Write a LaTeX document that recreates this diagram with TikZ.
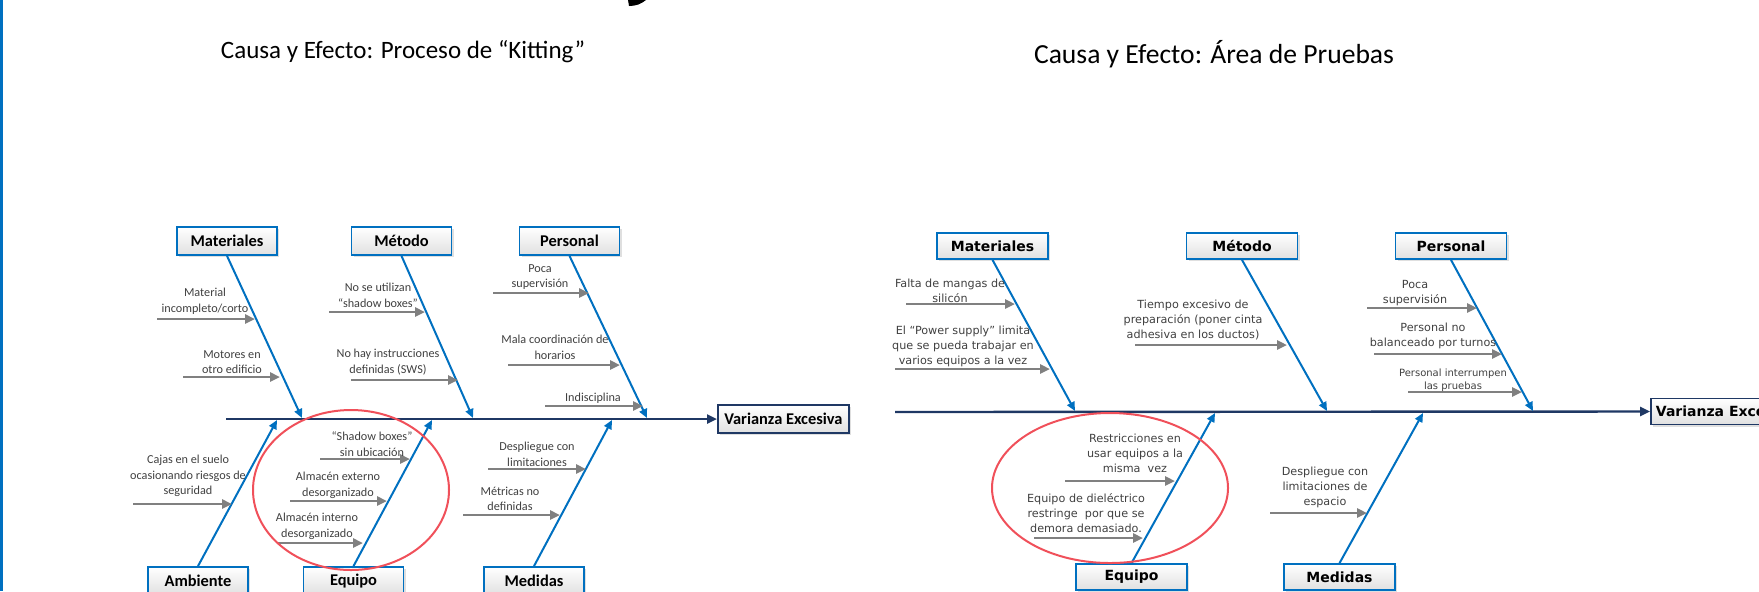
\documentclass[tikz,border=0pt]{standalone}
\usepackage{fontspec}
\setmainfont{Carlito}
\newfontfamily\tahfont{DejaVu Sans}
\usetikzlibrary{arrows.meta,shadows}
\definecolor{bonecol}{RGB}{0,112,192}
\definecolor{navy}{RGB}{31,56,100}
\definecolor{causecol}{RGB}{128,128,128}
\definecolor{txtcol}{RGB}{64,64,64}
\definecolor{ringcol}{RGB}{240,80,90}
\begin{document}
\begin{tikzpicture}[x=0.5pt,y=-0.5pt,
  cat/.style={draw=bonecol,line width=0.9pt,top color=white,bottom color=black!12,minimum width=50pt,minimum height=14pt,inner sep=0pt,
    font=\fontsize{8.2}{9}\selectfont\bfseries,drop shadow={opacity=0.25,shadow xshift=1pt,shadow yshift=-1pt}},
  catr/.style={cat,minimum width=55.5pt,minimum height=13pt,font=\tahfont\fontsize{7}{8}\selectfont\bfseries},
  bone/.style={bonecol,line width=1pt,-{Triangle[length=4.5pt,width=4pt]}},
  spine/.style={navy,line width=1.2pt,-{Triangle[length=5pt,width=4.5pt]}},
  cause/.style={causecol,line width=1.3pt,-{Triangle[length=5pt,width=4.5pt]}},
  lbl/.style={align=center,text=txtcol,inner sep=0pt,font=\fontsize{6.1}{7.8}\selectfont},
  lblr/.style={lbl,font=\tahfont\fontsize{5.6}{7.5}\selectfont},
  lblrs/.style={lbl,font=\tahfont\fontsize{5}{6.5}\selectfont},
  ring/.style={ringcol,line width=1pt}]
    \useasboundingbox (0,0) rectangle (1759,591);
    \clip (0,0) rectangle (1759,591);
    \fill[bonecol] (0,0) rectangle (3,591);
    \fill (628,0) -- (646,0) .. controls (641,4) and (636,6) .. (629,6) -- cycle;
    \node[font=\fontsize{12.5}{14}\selectfont] (titleL) at (403,52) {Causa y Efecto: Proceso de “Kitting”};
    \node[font=\fontsize{13.8}{15}\selectfont] (titleR) at (1214,54) {Causa y Efecto: Área de Pruebas};
    % Kitting
    \foreach \n/\t/\x/\y in {lmat/Materiales/227/241,lmet/Método/401.5/241,lper/Personal/569.5/241,
      lamb/Ambiente/198/581,lequ/Equipo/353.5/581,lmed/Medidas/534/581}
    \node[cat] (\n) at (\x,\y) {\t};
    \coordinate (ltail) at (226,419);
    \node[cat,draw=navy,minimum width=65.5pt,anchor=west] (leff) at (717,419) {Varianza Excesiva};
    \draw[spine] (ltail) -- (leff.west);
    \foreach \n/\x in {lmat/302,lmet/473,lper/647}{
    \coordinate (e\n) at (\x,418);
    \draw[bone] (\n.south) -- (e\n);
    }
    \foreach \n/\x in {lamb/277,lequ/432,lmed/612}{
    \coordinate (e\n) at (\x,420);
    \draw[bone] (\n.north) -- (e\n);
    }
    \foreach \n/\xa/\xb/\y/\tx/\ty/\t in {
      lc1/157/255/319/205/301/{Material\\incompleto/corto},
      lc2/183/280/377/232/362/{Motores en\\otro edificio},
      lc3/329/425/312/378/295/{No se utilizan\\“shadow boxes”},
      lc4/351/458/380/388/362/{No hay instrucciones\\definidas (SWS)},
      lc5/493/589/293/540/277/{Poca\\supervisión},
      lc6/508/620/365/555/347/{Mala coordinación de\\horarios},
      lc7/545/643/406/593/398/{Indisciplina},
      lc8/133/232/504/188/476/{Cajas en el suelo\\ocasionando riesgos de\\seguridad},
      lc9/320/410/459/372/444/{“Shadow boxes”\\sin ubicación},
      lc10/290/387/501/338/485/{Almacén externo\\desorganizado},
      lc11/277/363/543/317/526/{Almacén interno\\desorganizado},
      lc12/488/586/469/537/454/{Despliegue con\\limitaciones},
      lc13/463/560/515/510/499/{Métricas no\\definidas}}{
    \coordinate (\n a) at (\xa,\y);
    \coordinate (\n b) at (\xb,\y);
    \draw[cause] (\n a) -- (\n b);
    \node[lbl] (\n) at (\tx,\ty) {\t};
    }
    \draw[ring] (351,490) ellipse [x radius=98,y radius=80];
    % Pruebas
    \foreach \n/\t/\x/\y in {rmat/Materiales/992.5/246,rmet/Método/1242/246,rper/Personal/1451/246,
      requ/Equipo/1131.5/577,rmed/Medidas/1339.5/577}
    \node[catr] (\n) at (\x,\y) {\t};
    \coordinate (rtail) at (895,412);
    \node[catr,draw=navy,minimum width=0pt,inner xsep=2.5pt,anchor=west] (reff) at (1650,411.5) {Varianza Excesiva};
    \draw[spine] (rtail) -- (reff.west);
    \foreach \n/\x in {rmat/1075,rmet/1327,rper/1533}{
    \coordinate (e\n) at (\x,411);
    \draw[bone] (\n.south) -- (e\n);
    }
    \foreach \n/\x in {requ/1215,rmed/1423}{
    \coordinate (e\n) at (\x,413);
    \draw[bone] (\n.north) -- (e\n);
    }
    \foreach \n/\xa/\xb/\y/\tx/\ty/\s/\t in {
      rc1/906/1015/304/950/291/lblr/{Falta de mangas de\\silicón},
      rc2/895/1050/369/963/346/lblr/{El “Power supply” limita\\que se pueda trabajar en\\varios equipos a la vez},
      rc3/1135/1287/345/1193/320/lblr/{Tiempo excesivo de\\preparación (poner cinta\\adhesiva en los ductos)},
      rc4/1367/1477/308/1415/293/lblr/{Poca\\supervisión},
      rc5/1374/1502/354/1433/336/lblr/{Personal no\\balanceado por turnos},
      rc6/1408/1522/392/1453/380/lblrs/{Personal interrumpen\\las pruebas},
      rc7/1065/1175/481/1135/453/lblr/{Restricciones en\\usar equipos a la\\misma\ \ vez},
      rc8/1034/1143/538/1086/513/lblr/{Equipo de dieléctrico\\restringe\ \ por que se\\demora demasiado.},
      rc9/1270/1367/513/1325/487/lblr/{Despliegue con\\limitaciones de\\espacio}}{
    \coordinate (\n a) at (\xa,\y);
    \coordinate (\n b) at (\xb,\y);
    \draw[cause] (\n a) -- (\n b);
    \node[\s] (\n) at (\tx,\ty) {\t};
    }
    \draw[ring] (1110,488) ellipse [x radius=118,y radius=75];
\end{tikzpicture}
\end{document}
